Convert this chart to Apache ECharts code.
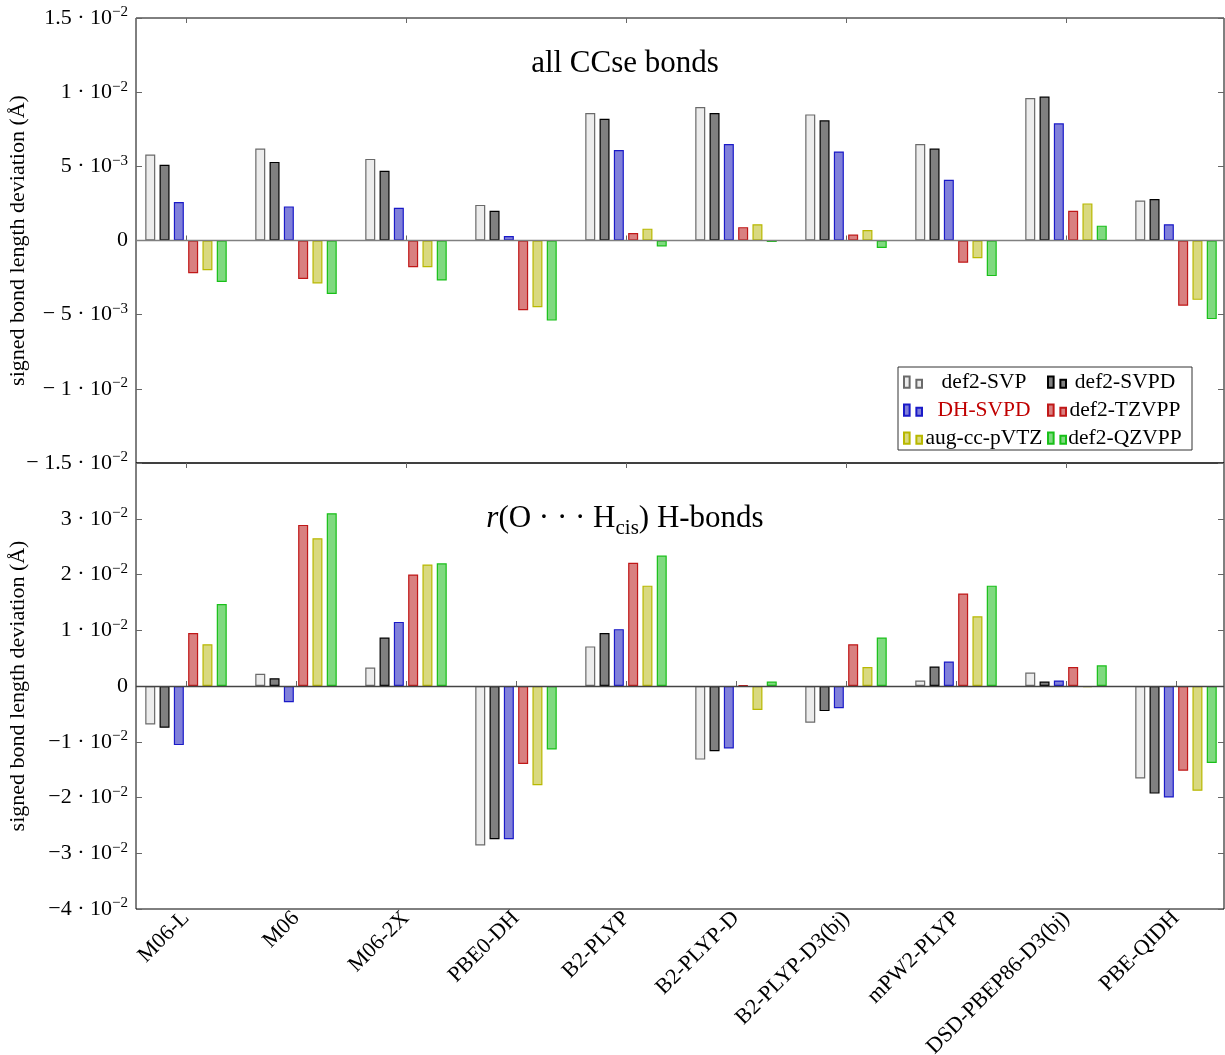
<!DOCTYPE html>
<html>
<head>
<meta charset="utf-8">
<script src="https://cdn.jsdelivr.net/npm/echarts@6/dist/echarts.min.js"></script>
<style>html,body{margin:0;padding:0;background:#fff}#c{width:1225px;height:1055px}</style>
</head>
<body>
<div id="c"></div>
<script>
// ---------- data ----------
const categories = ['M06-L', 'M06', 'M06-2X', 'PBE0-DH', 'B2-PLYP', 'B2-PLYP-D', 'B2-PLYP-D3(bj)', 'mPW2-PLYP', 'DSD-PBEP86-D3(bj)', 'PBE-QIDH'];
const basisSets = ['def2-SVP', 'def2-SVPD', 'DH-SVPD', 'def2-TZVPP', 'aug-cc-pVTZ', 'def2-QZVPP'];

// all CCse bonds (Å)
const ccseSVP   = [0.0058, 0.0062, 0.0055, 0.0024, 0.0086, 0.0090, 0.0085, 0.0065, 0.0096, 0.0027];
const ccseSVPD  = [0.0051, 0.0053, 0.0047, 0.0020, 0.0082, 0.0086, 0.0081, 0.0062, 0.0097, 0.0028];
const ccseDH    = [0.0026, 0.0023, 0.0022, 0.0003, 0.0061, 0.0065, 0.0060, 0.0041, 0.0079, 0.0011];
const ccseTZVPP = [-0.0022, -0.0026, -0.0018, -0.0047, 0.0005, 0.0009, 0.0004, -0.0015, 0.0020, -0.0044];
const ccseAug   = [-0.0020, -0.0029, -0.0018, -0.0045, 0.0008, 0.0011, 0.0007, -0.0012, 0.0025, -0.0040];
const ccseQZVPP = [-0.0028, -0.0036, -0.0027, -0.0054, -0.0004, -0.0001, -0.0005, -0.0024, 0.0010, -0.0053];

// r(O...Hcis) H-bonds (Å)
const hbSVP   = [-0.0069, 0.0022, 0.0033, -0.0286, 0.0071, -0.0132, -0.0066, 0.0010, 0.0024, -0.0166];
const hbSVPD  = [-0.0075, 0.0014, 0.0087, -0.0275, 0.0095, -0.0117, -0.0045, 0.0035, 0.0008, -0.0193];
const hbDH    = [-0.0106, -0.0029, 0.0115, -0.0275, 0.0102, -0.0112, -0.0040, 0.0044, 0.0010, -0.0200];
const hbTZVPP = [0.0095, 0.0289, 0.0200, -0.0140, 0.0221, 0.0001, 0.0075, 0.0166, 0.0034, -0.0152];
const hbAug   = [0.0075, 0.0265, 0.0218, -0.0178, 0.0180, -0.0043, 0.0034, 0.0125, -0.0002, -0.0188];
const hbQZVPP = [0.0147, 0.0310, 0.0220, -0.0114, 0.0234, 0.0008, 0.0087, 0.0180, 0.0037, -0.0138];

const topTickValues = [-0.015, -0.01, -0.005, 0, 0.005, 0.01, 0.015];
const topTickLabels = ['\u2212 1.5 \u00b7 10^\u22122', '\u2212 1 \u00b7 10^\u22122', '\u2212 5 \u00b7 10^\u22123', '0', '5 \u00b7 10^\u22123', '1 \u00b7 10^\u22122', '1.5 \u00b7 10^\u22122'];
const botTickValues = [-0.04, -0.03, -0.02, -0.01, 0, 0.01, 0.02, 0.03];
const botTickLabels = ['\u22124 \u00b7 10^\u22122', '\u22123 \u00b7 10^\u22122', '\u22122 \u00b7 10^\u22122', '\u22121 \u00b7 10^\u22122', '0', '1 \u00b7 10^\u22122', '2 \u00b7 10^\u22122', '3 \u00b7 10^\u22122'];

const topTitle = 'all CCse bonds';
const yName = 'signed bond length deviation (\u00c5)';

// ---------- styles ----------
const FONT = 'Liberation Serif';
const fills   = ['#ececec', '#808080', '#8080d9', '#d98080', '#d9d980', '#80d980'];
const borders = ['#6a6a6a', '#000000', '#1a1ac8', '#c01818', '#b8b800', '#18c018'];
const ICON = 'path://M0,0h5v10h-5z M11,3h5v7h-5z';

function tickFmt(values, labels) {
  return function (v) {
    const i = values.findIndex(t => Math.abs(t - v) < 1e-9);
    if (i < 0) return '';
    const parts = labels[i].split('^');
    return parts.length > 1 ? '{b|' + parts[0] + '}{s|' + parts[1] + '}' : '{b|' + parts[0] + '}';
  };
}
const tickRich = {
  b: { fontFamily: FONT, fontSize: 22, color: '#000', lineHeight: 26 },
  s: { fontFamily: FONT, fontSize: 15, color: '#000', verticalAlign: 'top', lineHeight: 15 }
};

const TOP = 18, MID = 463, BOT = 909;
const gridBase = { outerBoundsMode: 'none', containLabel: false };
const grids = [
  Object.assign({ left: 131, width: 1100, top: TOP, height: MID - TOP, show: false }, gridBase),
  Object.assign({ left: 131, width: 1100, top: MID, height: BOT - MID, show: false }, gridBase),
  Object.assign({ left: 136, right: 1, top: TOP, height: MID - TOP, show: true, borderColor: '#000', borderWidth: 1, backgroundColor: 'transparent' }, gridBase),
  Object.assign({ left: 136, right: 1, top: MID, height: BOT - MID, show: true, borderColor: '#000', borderWidth: 1, backgroundColor: 'transparent' }, gridBase)
];

const catTick = { show: true, inside: true, length: 5, alignWithLabel: true, lineStyle: { color: '#666', width: 1 } };
const xAxes = [
  { type: 'category', gridIndex: 0, position: 'bottom', data: categories, axisLine: { show: false }, axisTick: catTick, axisLabel: { show: false } },
  { type: 'category', gridIndex: 0, position: 'top', data: categories, axisLine: { show: false }, axisTick: catTick, axisLabel: { show: false } },
  { type: 'category', gridIndex: 1, position: 'bottom', data: categories, axisLine: { show: false }, axisTick: catTick,
    axisLabel: { show: true, interval: 0, rotate: 45, margin: 6, fontFamily: FONT, fontSize: 22, color: '#000' } },
  { type: 'category', gridIndex: 1, position: 'top', data: categories, axisLine: { show: false }, axisTick: catTick, axisLabel: { show: false } },
  { type: 'value', gridIndex: 2, min: 0, max: 1, show: false },
  { type: 'value', gridIndex: 3, min: 0, max: 1, show: false }
];

const valTick = { show: true, inside: true, length: 6, lineStyle: { color: '#666', width: 1 } };
const nameStyle = { fontFamily: FONT, fontSize: 22, color: '#000' };
const yAxes = [
  { type: 'value', gridIndex: 0, min: -0.015, max: 0.015, interval: 0.005, show: false },
  { type: 'value', gridIndex: 1, min: -0.04, max: 0.04, interval: 0.01, show: false },
  { type: 'value', gridIndex: 2, position: 'left', min: -0.015, max: 0.015, interval: 0.005,
    axisLine: { show: false }, axisTick: valTick, splitLine: { show: false },
    axisLabel: { formatter: tickFmt(topTickValues, topTickLabels), rich: tickRich, margin: 8 },
    name: yName, nameLocation: 'middle', nameGap: 107, nameMoveOverlap: false, nameTextStyle: nameStyle },
  { type: 'value', gridIndex: 2, position: 'right', min: -0.015, max: 0.015, interval: 0.005,
    axisLine: { show: false }, axisTick: valTick, splitLine: { show: false }, axisLabel: { show: false } },
  { type: 'value', gridIndex: 3, position: 'left', min: -0.04, max: 0.04, interval: 0.01,
    axisLine: { show: false }, axisTick: valTick, splitLine: { show: false },
    axisLabel: { formatter: tickFmt(botTickValues, botTickLabels), rich: tickRich, margin: 8 },
    name: yName, nameLocation: 'middle', nameGap: 107, nameMoveOverlap: false, nameTextStyle: nameStyle },
  { type: 'value', gridIndex: 3, position: 'right', min: -0.04, max: 0.04, interval: 0.01,
    axisLine: { show: false }, axisTick: valTick, splitLine: { show: false }, axisLabel: { show: false } }
];

const topData = [ccseSVP, ccseSVPD, ccseDH, ccseTZVPP, ccseAug, ccseQZVPP];
const botData = [hbSVP, hbSVPD, hbDH, hbTZVPP, hbAug, hbQZVPP];
const series = [];
function zeroLine(xi, yi, color) {
  return { type: 'line', xAxisIndex: xi, yAxisIndex: yi, data: [], z: 1, silent: true,
    markLine: { silent: true, symbol: ['none', 'none'], label: { show: false }, animation: false,
      lineStyle: { color: color, width: 1.3, type: 'solid' }, emphasis: { disabled: true }, data: [{ yAxis: 0 }] } };
}
series.push(zeroLine(4, 2, '#808080'));
series.push(zeroLine(5, 4, '#444444'));
basisSets.forEach((name, k) => {
  const common = { type: 'bar', name: name, barWidth: 10, barGap: '43%', z: 2, silent: true,
    itemStyle: { color: fills[k], borderColor: borders[k], borderWidth: 1.2 }, emphasis: { disabled: true } };
  series.push(Object.assign({}, common, { xAxisIndex: 0, yAxisIndex: 0, data: topData[k] }));
  series.push(Object.assign({}, common, { xAxisIndex: 2, yAxisIndex: 1, data: botData[k] }));
});

function legendFmt(n) { return (n === 'DH-SVPD' ? '{r|' : '{c|') + n + '}'; }
function legendDef(left, names, w) {
  return { orient: 'vertical', left: left, top: 371, padding: 0, itemGap: 6, itemWidth: 18, itemHeight: 14,
    icon: ICON, selectedMode: false, z: 20, data: names, formatter: legendFmt,
    textStyle: { fontFamily: FONT, fontSize: 21.5, color: '#000',
      rich: { c: { width: w, align: 'center', fontFamily: FONT, fontSize: 21.5, color: '#000', lineHeight: 20 },
              r: { width: w, align: 'center', fontFamily: FONT, fontSize: 21.5, color: '#c00000', lineHeight: 20 } } } };
}

const option = {
  animation: false,
  backgroundColor: '#fff',
  grid: grids,
  xAxis: xAxes,
  yAxis: yAxes,
  series: series,
  legend: [
    legendDef(903, ['def2-SVP', 'DH-SVPD', 'aug-cc-pVTZ'], 114),
    legendDef(1047, ['def2-SVPD', 'def2-TZVPP', 'def2-QZVPP'], 108)
  ],
  graphic: [
    { type: 'rect', z: 15, shape: { x: 898, y: 367, width: 294, height: 83 }, style: { fill: '#fff', stroke: '#333', lineWidth: 1 } },
    { type: 'text', z: 15, x: 625, y: 64, style: { text: topTitle, font: '31px "Liberation Serif"', fill: '#000', align: 'center', verticalAlign: 'middle' } },
    { type: 'text', z: 15, x: 625, y: 519, style: {
        text: '{i|r}{n|(O \u00b7 \u00b7 \u00b7 H}{sub|cis}{n|) H-bonds}',
        align: 'center', verticalAlign: 'middle',
        rich: {
          i: { fontFamily: FONT, fontSize: 31, fontStyle: 'italic', fill: '#000', lineHeight: 40 },
          n: { fontFamily: FONT, fontSize: 31, fill: '#000', lineHeight: 40 },
          sub: { fontFamily: FONT, fontSize: 21, fill: '#000', verticalAlign: 'bottom', lineHeight: 30 }
        } } }
  ]
};
const chart = echarts.init(document.getElementById('c'));
chart.setOption(option);
</script>
</body>
</html>
